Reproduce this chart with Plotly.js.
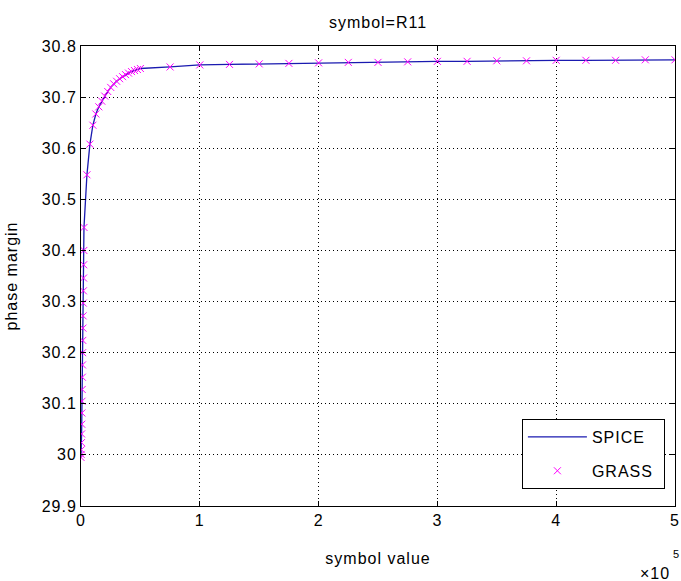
<!DOCTYPE html>
<html>
<head>
<meta charset="utf-8">
<script src="https://cdn.plot.ly/plotly-3.0.1.min.js"></script>
<style>
  html, body { margin: 0; padding: 0; background: #fff; }
  #chart { width: 681px; height: 581px; }
  /* slightly airy lettering for all chart text */
  svg text { letter-spacing: 1px; }
</style>
</head>
<body>
<div id="chart"></div>
<script>
// Swept values of the symbol R11
const symbolValue = [
  0, 125, 250, 375, 500, 625, 750, 875, 1000, 1125, 1250, 1375, 1500, 1625,
  1750, 1875, 2000, 2125, 2250, 2375, 2500,
  5000, 7500, 10000, 12500, 15000, 17500, 20000, 22500, 25000, 27500, 30000,
  32500, 35000, 37500, 40000, 42500, 45000, 47500, 50000,
  75000, 100000, 125000, 150000, 175000, 200000, 225000, 250000, 275000,
  300000, 325000, 350000, 375000, 400000, 425000, 450000, 475000, 500000
];

// Phase margin from the SPICE simulation
const spicePhaseMargin = [
  29.995, 30.001, 30.010, 30.024, 30.041, 30.060, 30.082, 30.105, 30.128, 30.152,
  30.176, 30.200, 30.224, 30.248, 30.272, 30.297, 30.321, 30.346, 30.372, 30.400,
  30.445,
  30.548, 30.608, 30.645, 30.667, 30.681, 30.692, 30.702, 30.711, 30.719, 30.726,
  30.731, 30.736, 30.740, 30.744, 30.747, 30.750, 30.752, 30.754, 30.756,
  30.759, 30.763, 30.764, 30.765, 30.766, 30.767, 30.768, 30.768, 30.769,
  30.770, 30.770, 30.771, 30.771, 30.772, 30.772, 30.772, 30.773, 30.773
];

// Phase margin predicted by GRASS
const grassPhaseMargin = [
  29.995, 30.001, 30.010, 30.024, 30.041, 30.060, 30.082, 30.105, 30.128, 30.152,
  30.176, 30.200, 30.224, 30.248, 30.272, 30.297, 30.321, 30.346, 30.372, 30.400,
  30.445,
  30.548, 30.608, 30.645, 30.667, 30.681, 30.692, 30.702, 30.711, 30.719, 30.726,
  30.731, 30.736, 30.740, 30.744, 30.747, 30.750, 30.752, 30.754, 30.756,
  30.759, 30.763, 30.764, 30.765, 30.766, 30.767, 30.768, 30.768, 30.769,
  30.770, 30.770, 30.771, 30.771, 30.772, 30.772, 30.772, 30.773, 30.773
];

const xTickVals = [0, 100000, 200000, 300000, 400000, 500000];
const xTickText = ['0', '1', '2', '3', '4', '5'];
const yTickVals = [29.9, 30.0, 30.1, 30.2, 30.3, 30.4, 30.5, 30.6, 30.7, 30.8];
const yTickText = ['29.9', '30', '30.1', '30.2', '30.3', '30.4', '30.5', '30.6', '30.7', '30.8'];

const FONT = 'Liberation Sans, Arial, Helvetica, sans-serif';
const FS = 16;

const traces = [
  {
    x: symbolValue,
    y: spicePhaseMargin,
    name: 'SPICE\u00a0',
    type: 'scatter',
    mode: 'lines',
    line: { color: '#1a1ab0', width: 1.3 },
    legendgroup: 'a'
  },
  {
    x: symbolValue,
    y: grassPhaseMargin,
    name: 'GRASS\u00a0',
    type: 'scatter',
    mode: 'markers',
    marker: { symbol: 'x-thin-open', size: 7, color: '#ff00ff', line: { color: '#ff00ff', width: 1 } },
    legendgroup: 'b'
  }
];

const axisCommon = {
  showline: true,
  linecolor: '#000',
  linewidth: 1,
  mirror: 'ticks',
  ticks: 'inside',
  ticklen: 5,
  tickcolor: '#000',
  showgrid: true,
  gridcolor: '#000',
  gridwidth: 1,
  griddash: '1px,3px',
  zeroline: false,
  tickfont: { family: FONT, size: FS, color: '#000' }
};

const layout = {
  width: 681,
  height: 581,
  margin: { l: 81, r: 6, t: 46, b: 75 },
  paper_bgcolor: '#fff',
  plot_bgcolor: '#fff',
  font: { family: FONT, size: FS, color: '#000' },
  title: {
    text: 'symbol=R11',
    font: { family: FONT, size: FS, color: '#000' },
    xref: 'paper', x: 0.5, xanchor: 'center',
    yref: 'container', y: 1 - 22 / 581, yanchor: 'middle'
  },
  xaxis: Object.assign({}, axisCommon, {
    range: [0, 500000],
    tickmode: 'array',
    tickvals: xTickVals,
    ticktext: xTickText,
    title: { text: 'symbol value', font: { family: FONT, size: FS, color: '#000' }, standoff: 24 }
  }),
  yaxis: Object.assign({}, axisCommon, {
    range: [29.9, 30.8],
    tickmode: 'array',
    tickvals: yTickVals,
    ticktext: yTickText,
    title: { text: 'phase margin', font: { family: FONT, size: FS, color: '#000' }, standoff: 20 }
  }),
  showlegend: true,
  legend: {
    x: 0.983, xanchor: 'right',
    y: 0.189, yanchor: 'top',
    bgcolor: '#fff',
    bordercolor: '#000',
    borderwidth: 1,
    font: { family: FONT, size: FS, color: '#000' },
    traceorder: 'grouped',
    tracegroupgap: 10,
    itemwidth: 59
  },
  annotations: [
    { text: '×10', xref: 'paper', yref: 'paper', x: 0.966, y: -0.1457, showarrow: false,
      xanchor: 'center', yanchor: 'middle', font: { family: FONT, size: FS, color: '#000' } },
    { text: '5', xref: 'paper', yref: 'paper', x: 1.0017, y: -0.105, showarrow: false,
      xanchor: 'center', yanchor: 'middle', font: { family: FONT, size: 11, color: '#000' } }
  ]
};

Plotly.newPlot('chart', traces, layout, { displayModeBar: false, staticPlot: true });
</script>
</body>
</html>
